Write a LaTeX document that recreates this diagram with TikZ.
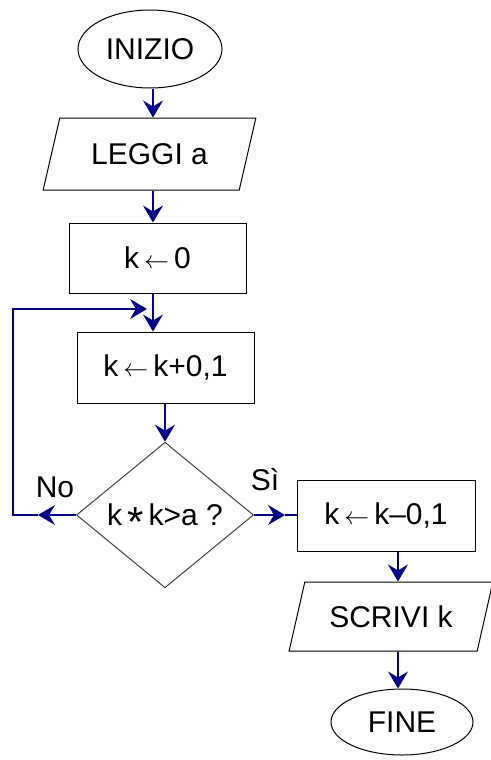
\documentclass[tikz,border=0pt]{standalone}
\usepackage{fontspec}
\setmainfont{Liberation Sans}
\usetikzlibrary{shapes.geometric,arrows.meta}

\definecolor{flowblue}{RGB}{0,0,140}
% assignment arrow and product sign
\newcommand{\assegna}{\,{\fontsize{26}{26}\selectfont$\leftarrow$}\,}
\newcommand{\per}{\,\raisebox{-11pt}[0pt][0pt]{\fontsize{42}{42}\selectfont *}\,}

\begin{document}
\begin{tikzpicture}[x=1pt,y=-1pt,
  every node/.style={font=\fontsize{30}{36}\selectfont},
  term/.style={draw,ellipse,line width=1pt,inner sep=0pt},
  io/.style={draw,trapezium,trapezium left angle=63,trapezium right angle=117,
    trapezium stretches=true,line width=1pt,inner sep=0pt},
  proc/.style={draw,rectangle,line width=1pt,inner sep=0pt},
  test/.style={draw=black!75,diamond,line width=1pt,inner sep=2pt},
  wire/.style={draw=flowblue,line width=1.2pt},
  flow/.style={wire,-{Stealth[length=17pt,width=20pt,inset=6pt]}}]
\useasboundingbox (0,0) rectangle (490,760);

% blocks
\node[term,minimum width=144pt,minimum height=78pt] (ini) at (150,49) {INIZIO};
\node[io,minimum width=213pt,minimum height=72pt] (leggi) at (149.5,154) {LEGGI a};
\node[proc,minimum width=177pt,minimum height=70pt] (zero) at (157.5,258) {k\assegna 0};
\node[proc,minimum width=177pt,minimum height=71pt] (inc) at (165.5,367.5) {k\assegna k+0,1};
\node[test,minimum width=177pt,minimum height=144pt] (cond) at (165,515) {k\per k>a ?};
\node[proc,minimum width=178pt,minimum height=71pt] (dec) at (386,515.5) {k\assegna k--0,1};
\node[io,minimum width=204pt,minimum height=69pt] (scrivi) at (391,616.5) {SCRIVI k};
\node[term,minimum width=142pt,minimum height=66pt] (fine) at (402,722) {FINE};

% columns of the arrows
\coordinate (colA) at (153,0);
\coordinate (colB) at (165,0);
\coordinate (colC) at (398,0);
% loop corners and arrow tips
\coordinate (lpB) at (13,515);
\coordinate (lpT) at (13,309);
\coordinate (noTip) at (38,515);
\coordinate (siTip) at (285,515);

% main flow
\draw[flow] (ini.south -| colA) -- (leggi.north -| colA);
\draw[flow] (leggi.south -| colA) -- (zero.north -| colA);
\draw[flow] (zero.south -| colA) -- (inc.north -| colA);
\draw[flow] (inc.south -| colB) -- (cond.north);
\draw[flow] (dec.south -| colC) -- (scrivi.north -| colC);
\draw[flow] (scrivi.south -| colC) -- (fine.north -| colC);

% No: back into the loop
\draw[flow] (cond.west) -- (noTip);
\draw[flow,shorten >=6pt] (noTip) -- (lpB) -- (lpT) -- (lpT -| colA);
\node (no) at (55,487) {No};

% Si: out of the loop
\draw[flow] (cond.east) -- (siTip);
\draw[wire] (siTip) -- (siTip -| dec.west);
\node (si) at (265,480) {Sì};
\end{tikzpicture}
\end{document}
